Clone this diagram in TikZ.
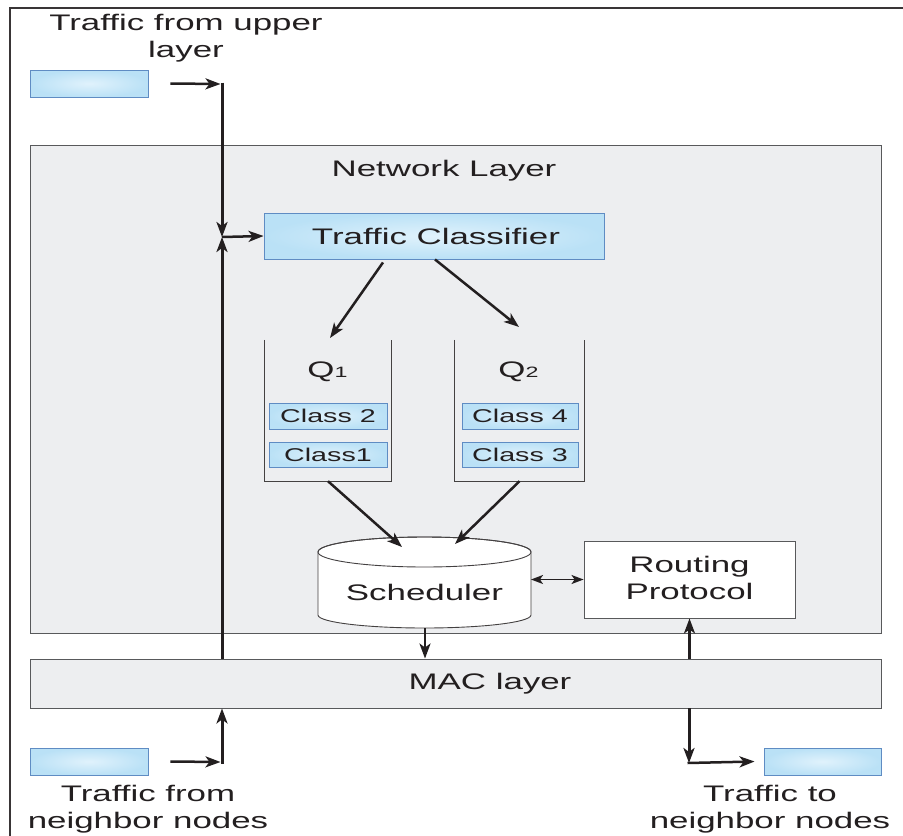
\documentclass[tikz,border=0pt]{standalone}
\usepackage{fontspec}
\setmainfont{Liberation Sans}[FakeStretch=1.55]
\usetikzlibrary{arrows.meta}

\definecolor{ink}{RGB}{35,31,32}
\definecolor{panel}{RGB}{237,238,240}
\definecolor{paneledge}{RGB}{88,89,91}
\definecolor{blueedge}{RGB}{95,140,195}
\definecolor{bluein}{RGB}{224,242,252}
\definecolor{blueout}{RGB}{186,225,246}

\tikzset{
  txt/.style={text=ink, inner sep=0pt, align=center, font=\fontsize{22.5}{27.5}\selectfont},
  smalltxt/.style={text=ink, inner sep=0pt, font=\fontsize{18.5}{22}\selectfont},
  layerbox/.style={draw=paneledge, fill=panel, line width=0.9pt, inner sep=0pt},
  bluebox/.style={draw=blueedge, line width=0.9pt, inner color=bluein, outer color=blueout, inner sep=0pt},
  whitebox/.style={draw=paneledge, fill=white, line width=0.9pt, inner sep=0pt},
  tip/.style={-{Stealth[length=15pt,width=11pt,inset=4pt]}},
  arr/.style={tip, draw=ink, line width=2.5pt},
  mainline/.style={tip, draw=ink, line width=3pt},
  twoway/.style={{Stealth[length=12pt,width=9pt,inset=3pt]}-{Stealth[length=12pt,width=9pt,inset=3pt]}, draw=ink, line width=1.7pt},
  queue/.style={draw=ink!85, line width=1.1pt},
}

\begin{document}
\begin{tikzpicture}[x=1pt,y=-1pt]
\useasboundingbox (0,0) rectangle (903,836);
\fill[white] (0,0) rectangle (903,836);

% outer frame (left and top edges)
\draw[ink!90, line width=2.8pt] (10,836) -- (10,8) -- (903,8);

% layers
\node[layerbox, minimum width=851pt, minimum height=488pt] (netlayer) at (455.5,389) {};
\node[txt] (netlabel) at (444,171) {Network Layer};
\node[layerbox, minimum width=851pt, minimum height=49pt] (mac) at (455.5,683.5) {};
\node[txt] (maclabel) at (490,684) {MAC layer};

% traffic sources and sink
\node[bluebox, minimum width=118pt, minimum height=27pt] (upsrc) at (89,83.5) {};
\node[txt] (uplabel) at (186,38) {Traffic from upper\\layer};
\node[bluebox, minimum width=118pt, minimum height=27pt] (nbsrc) at (89,761.5) {};
\node[txt] (nbsrclabel) at (148,809) {Traffic from\\neighbor nodes};
\node[bluebox, minimum width=117pt, minimum height=27pt] (nbdst) at (822.5,761.5) {};
\node[txt] (nbdstlabel) at (770,809) {Traffic to\\neighbor nodes};

% classifier
\node[bluebox, minimum width=340pt, minimum height=46pt] (classifier) at (434,236) {};
\node[txt] (classlabel) at (436,236) {Traffic Classifier};

% queues (open at the top)
\node[minimum width=126pt, minimum height=141pt, inner sep=0pt] (q1) at (328,410.5) {};
\node[minimum width=129pt, minimum height=141pt, inner sep=0pt] (q2) at (519.5,410.5) {};
\draw[queue] (q1.north west) -- (q1.south west) -- (q1.south east) -- (q1.north east);
\draw[queue] (q2.north west) -- (q2.south west) -- (q2.south east) -- (q2.north east);
\node[txt] (q1label) at (327.5,372) {Q{\fontsize{15}{15}\selectfont 1}};
\node[txt] (q2label) at (518.5,372) {Q{\fontsize{15}{15}\selectfont 2}};

\node[bluebox, minimum width=118pt, minimum height=26pt] (c2) at (328,416) {};
\node[smalltxt] at (c2) {Class 2};
\node[bluebox, minimum width=118pt, minimum height=25pt] (c1) at (328,454.5) {};
\node[smalltxt] at (c1) {Class1};
\node[bluebox, minimum width=116pt, minimum height=26pt] (c4) at (520,416) {};
\node[smalltxt] at (c4) {Class 4};
\node[bluebox, minimum width=116pt, minimum height=25pt] (c3) at (520,454.5) {};
\node[smalltxt] at (c3) {Class 3};

% scheduler cylinder
\filldraw[fill=white, draw=ink!85, line width=0.9pt]
  (318,552) -- (318,615)
  arc[start angle=180, end angle=360, x radius=106.5pt, y radius=13pt]
  -- (531,552)
  arc[start angle=0, end angle=180, x radius=106.5pt, y radius=15pt] -- cycle;
\draw[ink!85, line width=0.9pt] (424.5,552) ellipse[x radius=106.5pt, y radius=15pt];
\node[txt] (sched) at (424.5,592) {Scheduler};
\coordinate (schin1) at (402,547);
\coordinate (schin2) at (455,544);
\coordinate (schright) at (531,579.5);
\coordinate (schbot) at (425,628);

% routing protocol
\node[whitebox, minimum width=211pt, minimum height=77pt] (routing) at (689.5,579.5) {};
\node[txt] (routlabel) at (689.5,578) {Routing\\Protocol};

% junction points
\coordinate (jtop) at (222,84);
\coordinate (split) at (222,237);
\coordinate (jbl) at (222,762);
\coordinate (jbr) at (689,763);

% upper-layer path
\draw[arr] ([xshift=22pt]upsrc.east) -- ([xshift=-1.5pt]jtop);
\draw[mainline] ([yshift=1.5pt]jtop) -- (split);
\draw[mainline] (split |- mac.north) -- (split);
\draw[arr] (split) -- (classifier.west);

% classifier to queues
\draw[arr] ([xshift=-51pt,yshift=-3pt]classifier.south) -- (330,338);
\draw[arr] ([xshift=1pt]classifier.south) -- (519,327);

% queues to scheduler
\draw[arr] (q1.south) -- (schin1);
\draw[arr] (q2.south) -- (schin2);

% scheduler, routing, MAC
\draw[twoway] (schright) -- (routing.west);
\draw[arr] (schbot) -- (schbot |- mac.north);
\draw[mainline] (routing.south |- mac.north) -- (routing.south);

% neighbour traffic
\draw[arr] ([xshift=22pt]nbsrc.east) -- ([xshift=-1.5pt]jbl);
\draw[mainline] ([yshift=-1.5pt]jbl) -- (jbl |- mac.south);
\draw[mainline] (jbr |- mac.south) -- (jbr);
\draw[arr] ([xshift=-1.5pt]jbr) -- ([xshift=-9pt]nbdst.west);
\end{tikzpicture}
\end{document}
